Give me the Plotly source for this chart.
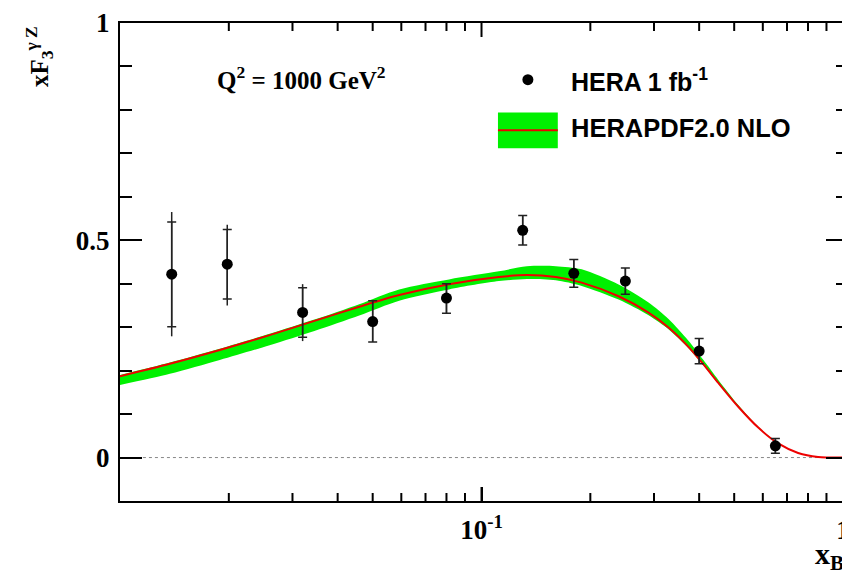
import math
import plotly.graph_objects as go

# ---- data points (HERA 1 fb^-1) ----
x_data = [0.0139, 0.0198, 0.032, 0.05, 0.08, 0.13, 0.18, 0.25, 0.40, 0.65]
y_data = [0.422, 0.445, 0.334, 0.313, 0.367, 0.523, 0.424, 0.406, 0.245, 0.027]
err_tot_up = [0.143, 0.091, 0.065, 0.048, 0.033, 0.034, 0.032, 0.030, 0.029, 0.017]
err_tot_dn = [0.143, 0.095, 0.066, 0.047, 0.035, 0.034, 0.032, 0.030, 0.029, 0.017]
err_stat_up = [0.120, 0.080, 0.057, 0.048, 0.033, 0.034, 0.032, 0.030, 0.029, 0.017]
err_stat_dn = [0.121, 0.080, 0.057, 0.047, 0.035, 0.034, 0.032, 0.030, 0.029, 0.017]

# ---- HERAPDF2.0 NLO prediction (central value and uncertainty band) ----
x_curve = [0.01, 0.01374, 0.01888, 0.02594, 0.0345, 0.0459, 0.0592, 0.0813, 0.1117, 0.1335,
           0.1605, 0.1893, 0.2394, 0.2898, 0.3291, 0.3736, 0.4111, 0.4520, 0.5132, 0.5828,
           0.6617, 0.7513, 0.8531, 1.0]
y_central = [0.187, 0.2158, 0.2475, 0.2817, 0.3144, 0.347, 0.374, 0.399, 0.4155, 0.4201,
             0.4155, 0.4025, 0.3712, 0.3336, 0.2993, 0.2548, 0.2144, 0.1717, 0.1169, 0.0689,
             0.0324, 0.0105, 0.0014, 0.0]
y_upper = [0.190, 0.2188, 0.2505, 0.2847, 0.3174, 0.353, 0.387, 0.410, 0.4285, 0.4401,
           0.4405, 0.4331, 0.3982, 0.3566, 0.3188, 0.2688, 0.2244, 0.1787, 0.1209, 0.0709,
           0.0334, 0.0105, 0.0014, 0.0]
y_lower = [0.167, 0.1928, 0.2245, 0.2587, 0.2914, 0.327, 0.361, 0.387, 0.406, 0.4111,
           0.408, 0.395, 0.3637, 0.3276, 0.2953, 0.2518, 0.2124, 0.1702, 0.1159, 0.0684,
           0.0319, 0.0103, 0.0014, 0.0]

x_tickvals = [0.1, 1]
x_ticktext = ["10<sup>-1</sup>", "1"]
x_minor = [0.02, 0.03, 0.04, 0.05, 0.06, 0.07, 0.08, 0.09, 0.2, 0.3, 0.4, 0.5, 0.6, 0.7, 0.8, 0.9]
y_tickvals = [0, 0.5, 1]
y_ticktext = ["0", "0.5", "1"]
y_minor = [-0.1, 0.1, 0.2, 0.3, 0.4, 0.6, 0.7, 0.8, 0.9]

GREEN = "#00f000"
RED = "#ee0000"
SERIF = "Liberation Serif"
SANS = "Liberation Sans"

# The page body adds an 8px offset; the figure is sized so the plot frame lands
# where the reference has it on screen.
OFF = 8
W, H = 850 - OFF, 573 - OFF
L, R, T, B = 120 - OFF, 0, 20 - OFF, 72
pw, ph = W - L - R, H - T - B
x_range = [-2, -2 + pw / 362.5]   # log10 units


def px(sx):
    # screen x -> paper fraction
    return (sx - 120) / pw


def py(sy):
    # screen y -> paper fraction
    return (501 - sy) / ph


fig = go.Figure()
fig.add_trace(go.Scatter(x=x_curve, y=y_lower, mode="lines", line=dict(width=0, shape="spline", smoothing=0.8),
                         hoverinfo="skip", showlegend=False))
fig.add_trace(go.Scatter(x=x_curve, y=y_upper, mode="lines", line=dict(width=0, shape="spline", smoothing=0.8),
                         fill="tonexty", fillcolor=GREEN, hoverinfo="skip", showlegend=False))
fig.add_trace(go.Scatter(x=x_curve, y=y_central, mode="lines",
                         line=dict(color=RED, width=2, shape="spline", smoothing=0.8), showlegend=False))
# total errors (no end ticks)
fig.add_trace(go.Scatter(x=x_data, y=y_data, mode="markers", marker=dict(size=0.1, color="black"),
                         error_y=dict(type="data", symmetric=False, array=err_tot_up, arrayminus=err_tot_dn,
                                      color="#222222", thickness=1.5, width=0),
                         showlegend=False))
# statistical errors (with ticks) + markers
fig.add_trace(go.Scatter(x=x_data, y=y_data, mode="markers", marker=dict(size=11, color="black"),
                         error_y=dict(type="data", symmetric=False, array=err_stat_up, arrayminus=err_stat_dn,
                                      color="#222222", thickness=1.5, width=4.5),
                         showlegend=False))
# invisible trace so the top frame axis (linear in log10 x) is drawn
fig.add_trace(go.Scatter(x=[x_range[0]], y=[y_central[0]], xaxis="x2", mode="markers",
                         marker=dict(size=0.1, opacity=0), hoverinfo="skip", showlegend=False))

shapes = [
    dict(type="line", xref="paper", yref="y", x0=px(143), x1=1, y0=0, y1=0,
         line=dict(color="#888888", width=1, dash="dot"), layer="below"),
    # legend: marker
    dict(type="circle", xref="paper", yref="paper", xsizemode="pixel", ysizemode="pixel",
         xanchor=px(529), yanchor=py(77), x0=-5.5, x1=5.5, y0=-5.5, y1=5.5,
         fillcolor="black", line=dict(width=0)),
    # legend: band + line
    dict(type="rect", xref="paper", yref="paper", x0=px(499), x1=px(559), y0=py(146), y1=py(110),
         fillcolor=GREEN, line=dict(width=0)),
    dict(type="line", xref="paper", yref="paper", x0=px(499), x1=px(559), y0=py(128), y1=py(128),
         line=dict(color=RED, width=2)),
]

# x-axis tick marks (bottom and top, pointing inward), placed on the log10 overlay axis
for vals, length in [(x_tickvals, 14), (x_minor, 8)]:
    for v in vals:
        lv = math.log10(v)
        shapes.append(dict(type="line", xref="x2", yref="paper", ysizemode="pixel", yanchor=0,
                           x0=lv, x1=lv, y0=0, y1=length, line=dict(color="black", width=2)))
        shapes.append(dict(type="line", xref="x2", yref="paper", ysizemode="pixel", yanchor=1,
                           x0=lv, x1=lv, y0=0, y1=-length, line=dict(color="black", width=2)))

annotations = [
    dict(text="Q<sup>2</sup> = 1000 GeV<sup>2</sup>", xref="paper", yref="paper",
         x=px(215), y=py(75), xanchor="left", yanchor="middle", showarrow=False,
         font=dict(family=SERIF, size=25, color="black", weight="bold")),
    dict(text="HERA 1 fb<sup>-1</sup>", xref="paper", yref="paper",
         x=px(570), y=py(77), xanchor="left", yanchor="middle", showarrow=False,
         font=dict(family=SANS, size=25, color="black", weight="bold")),
    dict(text="HERAPDF2.0 NLO", xref="paper", yref="paper",
         x=px(570), y=py(126), xanchor="left", yanchor="middle", showarrow=False,
         font=dict(family=SANS, size=25.5, color="black", weight="bold")),
    dict(text="xF<sub>3</sub><sup>γ Z</sup>", xref="paper", yref="paper",
         x=px(39), y=py(54), xanchor="center", yanchor="middle", textangle=-90, showarrow=False,
         font=dict(family=SERIF, size=25, color="black", weight="bold")),
    dict(text="x<sub>Bj</sub>", xref="paper", yref="paper",
         x=px(815), y=py(556), xanchor="left", yanchor="middle", showarrow=False,
         font=dict(family=SERIF, size=30, color="black", weight="bold")),
]

tickfont = dict(family=SERIF, size=27, color="black", weight="bold")

fig.update_layout(
    width=W, height=H,
    margin=dict(l=L, r=R, t=T, b=B, pad=0),
    paper_bgcolor="white", plot_bgcolor="white",
    shapes=shapes, annotations=annotations,
    showlegend=False,
    xaxis=dict(type="log", range=x_range,
               tickmode="array", tickvals=x_tickvals, ticktext=x_ticktext,
               ticks="inside", ticklen=14, tickwidth=2, tickcolor="black",
               showline=True, linecolor="black", linewidth=2, mirror=False,
               showgrid=False, zeroline=False, ticklabelstandoff=4, ticklabeloverflow="allow",
               tickfont=tickfont),
    xaxis2=dict(type="linear", range=x_range, overlaying="x", side="top", anchor="y",
                showticklabels=False, ticks="", showline=True, linecolor="black", linewidth=2,
                showgrid=False, zeroline=False),
    yaxis=dict(range=[-0.1, 1.0],
               tickmode="array", tickvals=y_tickvals, ticktext=y_ticktext,
               ticks="inside", ticklen=22, tickwidth=2, tickcolor="black",
               minor=dict(tickmode="array", tickvals=y_minor, ticks="inside", ticklen=12,
                          tickwidth=2, tickcolor="black", showgrid=False),
               showline=True, linecolor="black", linewidth=2, mirror="ticks",
               showgrid=False, zeroline=False, ticklabelstandoff=3, ticklabeloverflow="allow",
               tickfont=tickfont),
)

fig.write_html("out.html")
